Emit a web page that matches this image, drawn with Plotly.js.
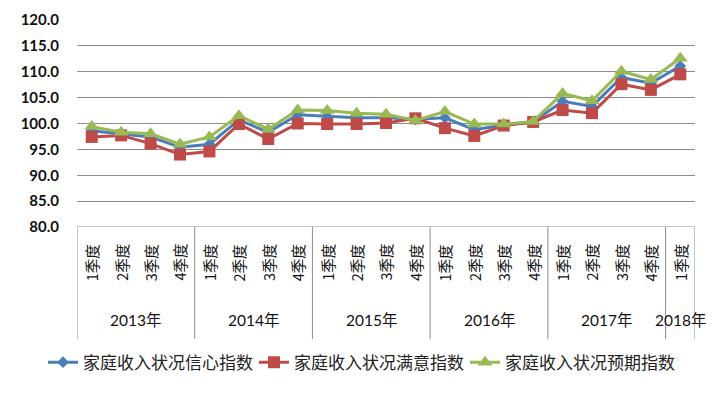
<!DOCTYPE html>
<html>
<head>
<meta charset="utf-8">
<script src="https://cdn.plot.ly/plotly-3.0.1.min.js"></script>
<style>html,body{margin:0;padding:0;background:#fff;}#chart{width:716px;height:393px;}</style>
</head>
<body>
<div id="chart"></div>
<script>
// ---- data ----
const quarterLabels = ['1季度','2季度','3季度','4季度','1季度','2季度','3季度','4季度','1季度','2季度','3季度','4季度','1季度','2季度','3季度','4季度','1季度','2季度','3季度','4季度','1季度'];
const yearLabels = ['2013年','2014年','2015年','2016年','2017年','2018年'];
const yearSpans = [4,4,4,4,4,1];
const seriesNames = ['家庭收入状况信心指数','家庭收入状况满意指数','家庭收入状况预期指数'];
const confidence = [98.6, 98.0, 97.4, 95.4, 96.0, 100.7, 98.3, 101.7, 101.4, 101.1, 101.1, 100.8, 101.1, 98.8, 99.7, 100.3, 104.3, 103.3, 108.9, 107.8, 111.1];
const satisfaction = [97.4, 97.7, 96.1, 94.0, 94.6, 99.9, 97.0, 100.0, 99.9, 99.9, 100.1, 101.0, 99.1, 97.6, 99.6, 100.3, 102.6, 102.0, 107.6, 106.5, 109.5];
const expectation = [99.4, 98.3, 98.0, 96.0, 97.4, 101.5, 98.9, 102.6, 102.5, 102.0, 101.8, 100.6, 102.3, 99.9, 99.9, 100.4, 105.8, 104.4, 110.1, 108.5, 112.6];

// ---- build ----
const xs = quarterLabels.map((_, i) => i);
const cjk = '"Noto Sans CJK SC", "Noto Sans", sans-serif';
const styles = [
  {color:'#4A7EBB', symbol:'diamond', size:9},
  {color:'#BE4B48', symbol:'square', size:12},
  {color:'#98B954', symbol:'triangle-up', size:13}
];
const values = [confidence, satisfaction, expectation];
const traces = values.map((v, k) => ({
  type:'scatter', mode:'lines+markers', x: xs, y: v, name: seriesNames[k],
  line:{color: styles[k].color, width:3},
  marker:{color: styles[k].color, symbol: styles[k].symbol, size: styles[k].size, line:{width:0}}
}));

const annotations = [];
const shapes = [];
quarterLabels.forEach((q, i) => {
  annotations.push({x:i, xref:'x', y:-0.172, yref:'paper', text:q, textangle:-90,
    showarrow:false, xanchor:'center', yanchor:'middle', font:{family:cjk, size:14.5, color:'#111'}});
});
let start = 0;
const lineColor = '#8c8c8c';
shapes.push({type:'line', xref:'x', x0:-0.5, x1:-0.5, yref:'paper', y0:0, y1:-0.541, line:{color:lineColor, width:1}});
yearLabels.forEach((yl, j) => {
  const span = yearSpans[j];
  annotations.push({x:start + (span-1)/2, xref:'x', y:-0.45, yref:'paper', text:yl, showarrow:false,
    xanchor:'center', yanchor:'middle', font:{family:'Lato, "Noto Sans CJK SC", sans-serif', size:15.5, color:'#111'}});
  start += span;
  shapes.push({type:'line', xref:'x', x0:start-0.5, x1:start-0.5, yref:'paper', y0:0, y1:-0.541, line:{color:lineColor, width:1}});
});
shapes.push({type:'line', xref:'paper', x0:0, x1:1, yref:'y', y0:80, y1:80, line:{color:lineColor, width:1}});

const layout = {
  width:716, height:393,
  margin:{l:77, r:21, t:20, b:164},
  paper_bgcolor:'#fff', plot_bgcolor:'#fff',
  showlegend:true,
  legend:{orientation:'h', x:-0.055, xanchor:'left', y:-0.655, yanchor:'middle', entrywidth:166,
    font:{family:cjk, size:17, color:'#222'}, bgcolor:'rgba(0,0,0,0)'},
  xaxis:{range:[-0.5, 20.5], showticklabels:false, showgrid:false, zeroline:false, showline:false, ticks:'', fixedrange:true},
  yaxis:{range:[80,120], dtick:5, tick0:80, tickformat:'.1f', showgrid:true, gridcolor:lineColor, gridwidth:1,
    zeroline:false, showline:false, ticks:'outside', ticklen:14, tickcolor:'rgba(0,0,0,0)',
    tickfont:{family:'Lato, sans-serif', size:15, color:'#111', weight:'bold'}, fixedrange:true},
  annotations: annotations,
  shapes: shapes
};
Plotly.newPlot('chart', traces, layout, {displayModeBar:false, staticPlot:true});
</script>
</body>
</html>
